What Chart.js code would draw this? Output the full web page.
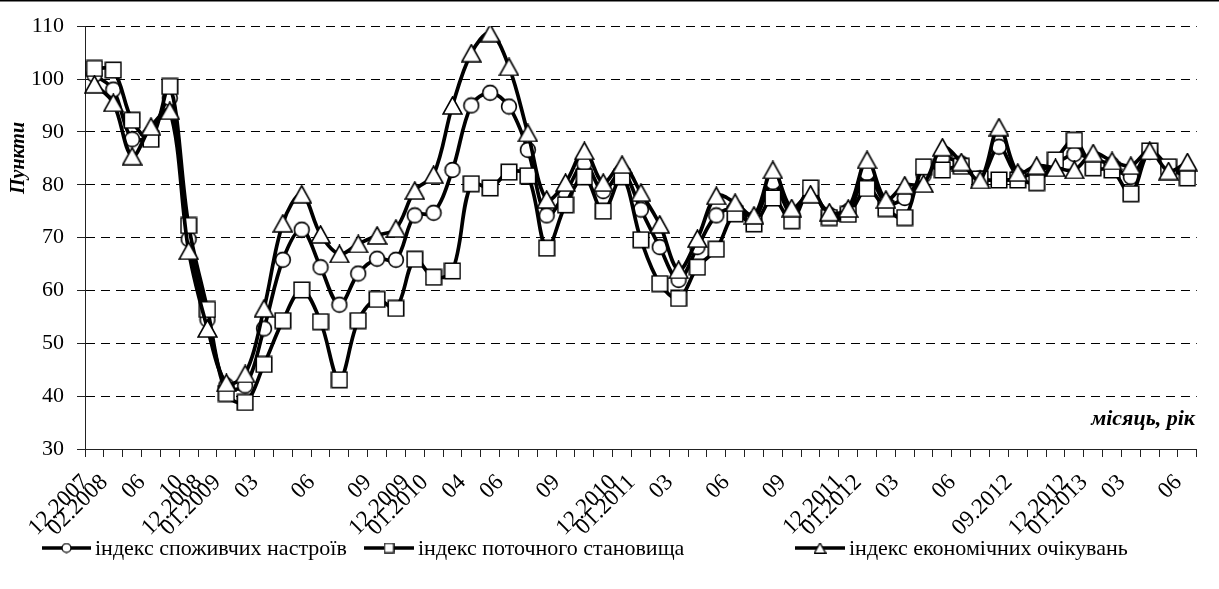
<!DOCTYPE html>
<html>
<head>
<meta charset="utf-8">
<script src="https://cdn.jsdelivr.net/npm/chart.js@4/dist/chart.umd.min.js"></script>
<style>
  html, body { margin: 0; padding: 0; background: #fff; }
  #wrap { width: 1219px; height: 589px; position: relative; }
</style>
</head>
<body>
<div id="wrap"><canvas id="c" width="1219" height="589"></canvas></div>
<script>
// Month labels shown under the axis (blank = unlabeled month)
const tickLabels = ['12.2007','02.2008','','06','','10','12.2008','01.2009','','03','','','06','','','09','','12.2009','01.2010','','04','','06','','','09','','','12.2010','01.2011','','03','','','06','','','09','','','12.2011','01.2012','','03','','','06','','','09.2012','','','12.2012','01.2013','','03','','','06'];

const seriesNames = ['індекс споживчих настроїв', 'індекс поточного становища', 'індекс економічних очікувань'];

// Index of consumer sentiment
const sentiment = [100.8, 98, 88.6, 89.7, 96.4, 69.7, 54.5, 42, 42, 52.8,
  65.8, 71.5, 64.4, 57.3, 63.2, 66, 65.8, 74.2, 74.7, 82.8,
  95, 97.4, 94.8, 86.6, 74.2, 78.5, 84, 78.8, 82.5, 75.3,
  68.2, 62, 68.2, 74.2, 75.5, 73.5, 80.5, 74.5, 79, 74.3,
  75, 82.2, 76.5, 77.5, 81.8, 85, 84, 81.2, 87.2, 81.7,
  82.5, 84, 85.8, 84.8, 83.8, 81.5, 86.2, 83.2, 82.8];

// Index of current situation
const current = [102, 101.7, 92.2, 88.6, 98.6, 72.3, 56.4, 40.5, 38.8, 46,
  54.3, 60.1, 54.1, 43.1, 54.3, 58.3, 56.6, 65.9, 62.5, 63.7,
  80.2, 79.4, 82.4, 81.7, 68, 76.2, 81.5, 75, 81.5, 69.6,
  61.3, 58.5, 64.4, 67.8, 74.5, 72.6, 77.5, 73.2, 79.4, 73.8,
  74.4, 79.3, 75.5, 73.8, 83.4, 82.8, 83.5, 81.1, 80.9, 80.9,
  80.4, 84.7, 88.4, 83.2, 82.8, 78.3, 86.4, 83.4, 81.3];

// Index of economic expectations
const expectations = [99, 95.5, 85.4, 91, 94, 67.5, 52.8, 42.5, 44.2, 56.6,
  72.7, 78.2, 70.6, 66.9, 68.8, 70.4, 71.7, 78.9, 81.9, 95,
  104.9, 108.7, 102.3, 89.8, 77.2, 80.4, 86.4, 80.4, 83.8, 78.5,
  72.5, 63.9, 69.8, 77.9, 76.6, 74.2, 82.8, 75.6, 78.2, 74.8,
  75.5, 84.7, 77.2, 79.9, 80.2, 87.1, 84.3, 80.9, 90.9, 82.3,
  83.6, 83.2, 82.8, 86, 84.5, 83.6, 86.4, 82.6, 84.3];

const yTicks = { min: 30, max: 110, step: 10 };

const SERIF = '"Liberation Serif", "Times New Roman", serif';

// Marker images: white fill with black outline
function makeMarker(kind, scale) {
  const c = document.createElement('canvas');
  const s = scale || 1;
  const w = Math.round((kind === 'triangle' ? 21 : 18) * s);
  const h = Math.round((kind === 'triangle' ? 19 : 18) * s);
  c.width = w; c.height = h;
  const g = c.getContext('2d');
  g.fillStyle = '#fff';
  g.strokeStyle = '#000';
  g.lineWidth = 1.6 * Math.max(s, 0.8);
  g.beginPath();
  if (kind === 'circle') {
    g.arc(w / 2, h / 2, 7.4 * s, 0, Math.PI * 2);
  } else if (kind === 'rect') {
    const side = 15.5 * s;
    g.rect((w - side) / 2, (h - side) / 2, side, side);
  } else {
    const tw = 19 * s, th = 17 * s;
    g.moveTo(w / 2, (h - th) / 2);
    g.lineTo(w / 2 + tw / 2, (h + th) / 2);
    g.lineTo(w / 2 - tw / 2, (h + th) / 2);
    g.closePath();
  }
  g.fill();
  g.stroke();
  return c;
}

const markers = [makeMarker('circle'), makeMarker('rect'), makeMarker('triangle')];
const legendMarkers = [makeMarker('circle', 0.6), makeMarker('rect', 0.6), makeMarker('triangle', 0.6)];

function lineDataset(label, data, marker, order) {
  return {
    label, data, order,
    borderColor: '#000',
    borderWidth: 3.7,
    tension: 0.35,
    fill: false,
    pointStyle: marker,
    pointRadius: 8,
    pointHoverRadius: 8,
    pointBackgroundColor: '#fff',
    pointBorderColor: '#000'
  };
}

// Titles, top rule and the legend row
const decorations = {
  id: 'decorations',
  afterDraw(chart) {
    const ctx = chart.ctx;
    ctx.save();
    // top rule
    ctx.strokeStyle = '#000';
    ctx.lineWidth = 1.5;
    ctx.beginPath();
    ctx.moveTo(0, 0.75);
    ctx.lineTo(chart.width, 0.75);
    ctx.stroke();

    ctx.fillStyle = '#000';
    // y-axis title
    ctx.font = 'italic bold 20px ' + SERIF;
    ctx.textAlign = 'center';
    ctx.textBaseline = 'middle';
    ctx.save();
    ctx.translate(19, 158);
    ctx.rotate(-Math.PI / 2);
    ctx.fillText('Пункти', 0, 0);
    ctx.restore();

    // x-axis title inside the plot
    ctx.font = 'italic bold 22px ' + SERIF;
    ctx.textAlign = 'right';
    ctx.textBaseline = 'alphabetic';
    ctx.fillText('місяць, рік', 1195, 425);

    // legend
    const items = [
      { x1: 42, x2: 91, text: 95 },
      { x1: 364, x2: 414, text: 418 },
      { x1: 795, x2: 845, text: 849 }
    ];
    const ly = 548;
    ctx.font = '22px ' + SERIF;
    ctx.textAlign = 'left';
    ctx.textBaseline = 'middle';
    items.forEach((it, i) => {
      ctx.strokeStyle = '#000';
      ctx.lineWidth = 3.5;
      ctx.beginPath();
      ctx.moveTo(it.x1, ly);
      ctx.lineTo(it.x2, ly);
      ctx.stroke();
      const m = legendMarkers[i];
      ctx.drawImage(m, (it.x1 + it.x2) / 2 - m.width / 2, ly - m.height / 2);
      ctx.fillText(seriesNames[i], it.text, ly + 1);
    });
    ctx.restore();
  }
};

new Chart(document.getElementById('c'), {
  type: 'line',
  data: {
    labels: tickLabels,
    datasets: [
      lineDataset(seriesNames[0], sentiment, markers[0], 3),
      lineDataset(seriesNames[1], current, markers[1], 2),
      lineDataset(seriesNames[2], expectations, markers[2], 1)
    ]
  },
  options: {
    responsive: false,
    animation: false,
    events: [],
    layout: { padding: { top: 22.5, right: 2, bottom: 0, left: 0 } },
    plugins: {
      legend: { display: false },
      tooltip: { enabled: false },
      title: { display: false }
    },
    scales: {
      x: {
        type: 'category',
        offset: true,
        grid: {
          offset: true,
          drawOnChartArea: false,
          drawTicks: true,
          tickLength: 8,
          tickColor: '#222',
          tickWidth: 1
        },
        border: { display: true, color: '#222', width: 1 },
        ticks: {
          autoSkip: false,
          minRotation: 45,
          maxRotation: 45,
          padding: 12,
          labelOffset: -9,
          color: '#000',
          font: { family: SERIF, size: 23 }
        },
        afterFit(scale) { scale.height = 140; }
      },
      y: {
        min: yTicks.min,
        max: yTicks.max,
        ticks: {
          stepSize: yTicks.step,
          padding: 13,
          color: '#000',
          font: { family: SERIF, size: 22 }
        },
        grid: {
          color: '#000',
          lineWidth: 1,
          tickLength: 8,
          tickColor: '#222',
          tickBorderDash: [],
          drawTicks: true
        },
        border: { display: true, color: '#222', width: 1, dash: [9, 6] },
        afterFit(scale) { scale.width = 85; }
      }
    }
  },
  plugins: [decorations]
});
</script>
</body>
</html>
